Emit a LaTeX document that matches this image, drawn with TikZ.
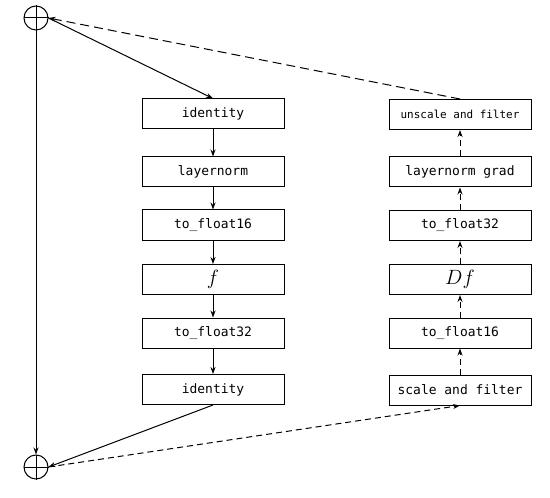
\documentclass[tikz,border=0pt]{standalone}
\usepackage{fontspec}
\setmonofont{DejaVu Sans Mono}
\usetikzlibrary{arrows.meta}
\begin{document}
\begin{tikzpicture}[x=1bp,y=-1bp,line width=1bp,
  blk/.style={draw,rectangle,minimum width=142bp,minimum height=30bp,inner sep=0,font=\ttfamily\fontsize{13}{15}\selectfont},
  sumnode/.style={draw,circle,minimum size=24bp,inner sep=0},
  arr/.style={-{Stealth[length=7bp,width=5bp]}},
  darr/.style={-{Stealth[length=7bp,width=5bp]},dashed,dash pattern=on 6bp off 4bp}]
\useasboundingbox (0,0) rectangle (550,498);
\node[sumnode] (top) at (36,18) {};
\draw (top.north)--(top.south) (top.west)--(top.east);
\node[sumnode] (bot) at (36,467) {};
\draw (bot.north)--(bot.south) (bot.west)--(bot.east);
% forward
\node[blk] (l1) at (213,114) {identity};
\node[blk] (l2) at (213,172) {layernorm};
\node[blk] (l3) at (213,225) {to\_float16};
\node[blk,font=\fontsize{20}{22}\selectfont] (l4) at (213,279.5) {$f$};
\node[blk] (l5) at (213,333) {to\_float32};
\node[blk] (l6) at (213,389.5) {identity};
% backward
\node[blk,font=\ttfamily\fontsize{11}{13}\selectfont] (r1) at (460,114.5) {unscale and filter};
\node[blk] (r2) at (460,172) {layernorm grad};
\node[blk] (r3) at (460,225.5) {to\_float32};
\node[blk,font=\fontsize{20}{22}\selectfont] (r4) at (460,279.5) {$Df$};
\node[blk] (r5) at (460,333) {to\_float16};
\node[blk] (r6) at (460,390) {scale and filter};
% connectors
\draw[arr] (top.east) -- (l1.north);
\draw[arr] (l1) -- (l2);
\draw[arr] (l2) -- (l3);
\draw[arr] (l3) -- (l4);
\draw[arr] (l4) -- (l5);
\draw[arr] (l5) -- (l6);
\draw[arr] (l6.south) -- (bot.east);
\draw[arr] (top) -- (bot);
\draw[darr] (bot.east) -- (r6.south);
\draw[darr] (r6) -- (r5);
\draw[darr] (r5) -- (r4);
\draw[darr] (r4) -- (r3);
\draw[darr] (r3) -- (r2);
\draw[darr] (r2) -- (r1);
\draw[darr,dash pattern=on 9bp off 5bp] (r1.north) -- (top.east);
\end{tikzpicture}
\end{document}
